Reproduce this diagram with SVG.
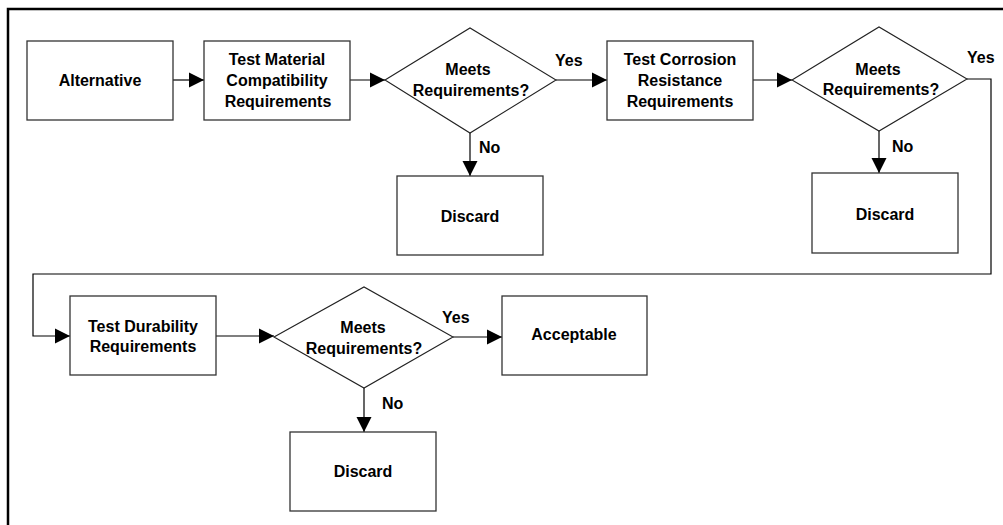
<svg xmlns="http://www.w3.org/2000/svg" width="1003" height="525" viewBox="0 0 1003 525">
<defs>
<marker id="arr" markerUnits="userSpaceOnUse" markerWidth="16" markerHeight="16" viewBox="0 0 16 16" refX="15" refY="8" orient="auto">
<path d="M0,0.5 L15,8 L0,15.5 Z" fill="#000"/>
</marker>
<style>
.box{fill:#fff;stroke:#333;stroke-width:1.3}
.dia{fill:#fff;stroke:#222;stroke-width:1.1}
.t{font-family:"Liberation Sans",Arial,sans-serif;font-weight:bold;font-size:16px;fill:#000;text-anchor:middle}
.l{font-family:"Liberation Sans",Arial,sans-serif;font-weight:bold;font-size:16px;fill:#000}
.c{fill:none;stroke:#000;stroke-width:1.2}
</style>
</defs>
<rect width="1003" height="525" fill="#fff"/>
<path d="M8,526 V9 H1004" fill="none" stroke="#000" stroke-width="2.5"/>
<g id="connectors">
<path class="c" d="M173,80 H204" marker-end="url(#arr)"/>
<path class="c" d="M350,80 H385" marker-end="url(#arr)"/>
<path class="c" d="M556,80 H607" marker-end="url(#arr)"/>
<path class="c" d="M470,133 V176" marker-end="url(#arr)"/>
<path class="c" d="M753,80 H792" marker-end="url(#arr)"/>
<path class="c" d="M879,131 V173" marker-end="url(#arr)"/>
<path class="c" d="M967,79 H991 V274 H33 V336 H70" marker-end="url(#arr)"/>
<path class="c" d="M216,336 H274" marker-end="url(#arr)"/>
<path class="c" d="M453,337 H502" marker-end="url(#arr)"/>
<path class="c" d="M364,388 V432" marker-end="url(#arr)"/>
<text class="l" x="555" y="66">Yes</text>
<text class="l" x="479" y="153">No</text>
<text class="l" x="967" y="63">Yes</text>
<text class="l" x="892" y="152">No</text>
<text class="l" x="442" y="323">Yes</text>
<text class="l" x="382" y="409">No</text>
</g>
<g id="alternative">
<rect class="box" x="27" y="41" width="146" height="79"/>
<text class="t" x="100" y="86">Alternative</text>
</g>
<g id="test-material">
<rect class="box" x="204" y="41" width="146" height="79"/>
<text class="t" x="277" y="65">Test Material</text>
<text class="t" x="277" y="86">Compatibility</text>
<text class="t" x="278" y="107">Requirements</text>
</g>
<g id="decision1">
<polygon class="dia" points="385,80 470,28 556,80 470,133"/>
<text class="t" x="468" y="75">Meets</text>
<text class="t" x="471" y="96">Requirements?</text>
</g>
<g id="discard1">
<rect class="box" x="397" y="176" width="146" height="79"/>
<text class="t" x="470" y="222">Discard</text>
</g>
<g id="test-corrosion">
<rect class="box" x="607" y="41" width="146" height="79"/>
<text class="t" x="680" y="65">Test Corrosion</text>
<text class="t" x="680" y="86">Resistance</text>
<text class="t" x="680" y="107">Requirements</text>
</g>
<g id="decision2">
<polygon class="dia" points="792,80 879,27 967,79 879,131"/>
<text class="t" x="878" y="75">Meets</text>
<text class="t" x="881" y="95">Requirements?</text>
</g>
<g id="discard2">
<rect class="box" x="812" y="173" width="146" height="80"/>
<text class="t" x="885" y="220">Discard</text>
</g>
<g id="test-durability">
<rect class="box" x="70" y="296" width="146" height="79"/>
<text class="t" x="143" y="332">Test Durability</text>
<text class="t" x="143" y="352">Requirements</text>
</g>
<g id="decision3">
<polygon class="dia" points="274,337 364,287 453,337 364,388"/>
<text class="t" x="363" y="333">Meets</text>
<text class="t" x="364" y="354">Requirements?</text>
</g>
<g id="acceptable">
<rect class="box" x="502" y="296" width="145" height="79"/>
<text class="t" x="574" y="340">Acceptable</text>
</g>
<g id="discard3">
<rect class="box" x="290" y="432" width="146" height="79"/>
<text class="t" x="363" y="477">Discard</text>
</g>
</svg>
